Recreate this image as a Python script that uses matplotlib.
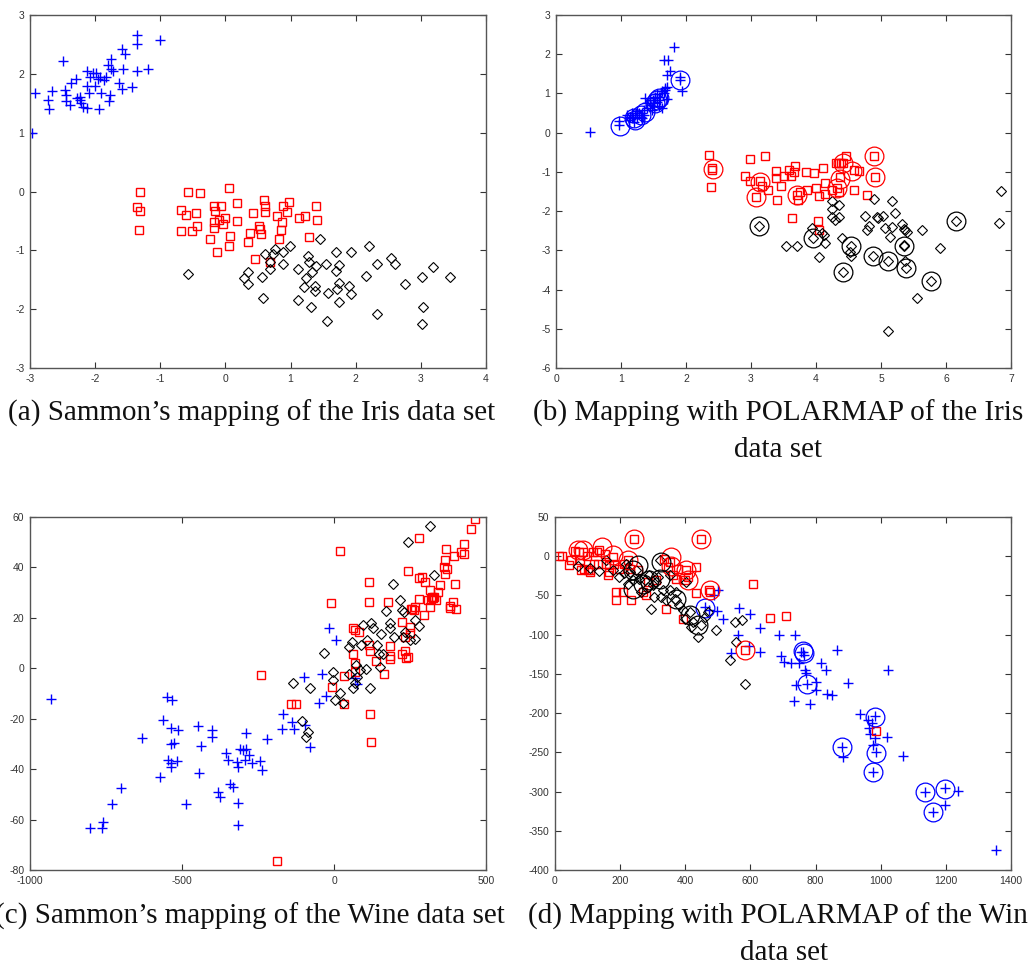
"""Sammon vs POLARMAP projections of Iris and Wine, four scatter panels."""

import numpy as np
import matplotlib
matplotlib.use("Agg")
import matplotlib.pyplot as plt

# === (a) Sammon, Iris ===
a_plus_x = [-2.97, -2.92, -2.66, -2.73, -2.71, -2.50, -2.46, -2.45, -2.44, -2.39, -2.37, -2.29, -2.28,
            -2.23, -2.22, -2.13, -2.12, -2.12, -2.10, -2.03, -2.00, -1.99, -1.96, -1.94, -1.92, -1.91,
            -1.83, -1.79, -1.77, -1.75, -1.75, -1.72, -1.64, -1.59, -1.59, -1.58, -1.54, -1.43, -1.35,
            -1.35, -1.35, -1.19, -1.01, -1.87, -2.23, -1.80, -2.08, -2.18]
a_plus_y = [0.99, 1.68, 1.71, 1.55, 1.40, 2.22, 1.72, 1.64, 1.53, 1.47, 1.85, 1.91, 1.59,
            1.61, 1.50, 2.05, 1.79, 1.42, 1.67, 2.02, 1.79, 2.01, 1.91, 1.40, 1.94, 1.68,
            1.94, 1.53, 1.64, 2.25, 2.09, 2.05, 1.85, 2.42, 1.74, 2.09, 2.34, 1.77, 2.66,
            2.51, 2.05, 2.08, 2.58, 1.90, 1.56, 2.15, 1.95, 1.43]
a_sq_x = [-1.31, -1.35, -1.31, -1.32, -0.68, -0.60, -0.57, -0.39, -0.45, -0.43, -0.68, -0.52, -0.23,
          -0.18, -0.16, -0.18, -0.17, -0.13, -0.10, -0.07, -0.04, -0.01, 0.05, 0.05, 0.07, 0.17, 0.17,
          0.35, 0.37, 0.43, 0.46, 0.52, 0.55, 0.59, 0.60, 0.60, 0.68, 0.79, 0.83, 0.86, 0.87, 0.88,
          0.94, 0.97, 1.13, 1.22, 1.28, 1.39, 1.40, 0.53]
a_sq_y = [0.00, -0.27, -0.33, -0.65, -0.31, -0.40, -0.01, -0.03, -0.36, -0.58, -0.67, -0.67, -0.81,
          -0.25, -0.33, -0.51, -0.62, -1.03, -0.48, -0.24, -0.55, -0.45, 0.06, -0.92, -0.76, -0.19, -0.50,
          -0.85, -0.70, -0.36, -1.15, -0.59, -0.73, -0.14, -0.24, -0.34, -1.20, -0.42, -0.81, -0.65, -0.51, -0.24,
          -0.34, -0.17, -0.45, -0.42, -0.78, -0.24, -0.48, -0.64]
a_dia_x = [-0.57, 0.28, 0.34, 0.35, 0.56, 0.58, 0.60, 0.68, 0.73, 0.76, 0.88, 0.88, 0.99, 1.11, 1.11,
           1.21, 1.24, 1.26, 1.28, 1.32, 1.33, 1.38, 1.39, 1.38, 1.45, 1.55, 1.56, 1.58, 1.69, 1.69,
           1.71, 1.74, 1.75, 1.75, 1.89, 1.92, 1.93, 2.16, 2.20, 2.32, 2.32, 2.54, 2.61, 2.75, 3.02,
           3.04, 3.02, 3.19, 3.44, 0.69]
a_dia_y = [-1.40, -1.47, -1.37, -1.57, -1.45, -1.81, -1.07, -1.32, -1.07, -0.98, -1.02, -1.23, -0.93, -1.32, -1.84,
           -1.62, -1.47, -1.10, -1.19, -1.96, -1.36, -1.61, -1.27, -1.69, -0.80, -1.23, -2.20, -1.73, -1.02, -1.35,
           -1.66, -1.25, -1.55, -1.88, -1.60, -1.03, -1.74, -1.44, -0.93, -1.24, -2.08, -1.13, -1.24, -1.57, -1.45,
           -1.96, -2.25, -1.29, -1.45, -1.19]

# === (b) POLARMAP, Iris ===
b_plus_x = [0.52, 0.97, 0.97, 1.14, 1.17, 1.19, 1.22, 1.25, 1.27, 1.30, 1.32, 1.35, 1.37, 1.40, 1.45,
            1.48, 1.49, 1.50, 1.53, 1.55, 1.58, 1.60, 1.63, 1.66, 1.68, 1.70, 1.71, 1.71, 1.66, 1.73,
            1.76, 1.81, 1.91, 1.91, 1.94, 1.12, 1.20, 1.50, 1.55, 1.63, 1.32, 1.40, 1.09, 1.59, 1.67,
            1.25, 1.45, 1.35, 1.53, 1.17]
b_plus_y = [0.01, 0.31, 0.20, 0.41, 0.50, 0.37, 0.45, 0.39, 0.50, 0.41, 0.51, 0.45, 0.88, 0.62, 0.71,
            0.58, 0.84, 0.75, 0.88, 0.79, 0.92, 0.84, 0.62, 1.01, 1.09, 0.85, 1.17, 1.47, 1.85, 1.85,
            1.56, 2.18, 1.41, 1.34, 1.05, 0.33, 0.28, 0.67, 0.98, 1.05, 0.37, 0.75, 0.45, 0.69, 1.13,
            0.54, 0.84, 0.58, 0.92, 0.37]
b_sq_x = [2.36, 2.40, 2.40, 2.38, 2.91, 2.99, 2.99, 3.07, 3.14, 3.17, 3.22, 3.26, 3.38, 3.38, 3.40,
          3.46, 3.50, 3.58, 3.61, 3.63, 3.66, 3.68, 3.71, 3.73, 3.75, 3.85, 3.86, 3.97, 4.00, 4.03,
          4.04, 4.04, 4.11, 4.14, 4.14, 4.31, 4.35, 4.39, 4.42, 4.46, 4.37, 4.32, 4.36, 4.58, 4.66,
          4.58, 4.78, 4.89, 4.90, 4.25]
b_sq_y = [-0.57, -0.90, -0.96, -1.39, -1.10, -0.68, -1.22, -1.63, -1.24, -1.37, -0.59, -1.46, -0.97, -1.16, -1.71,
          -1.37, -1.10, -0.95, -1.10, -2.18, -1.00, -0.85, -1.58, -1.71, -1.52, -1.00, -1.46, -1.02, -1.41, -2.26,
          -2.47, -1.61, -0.90, -1.29, -1.57, -0.78, -0.78, -0.78, -0.78, -0.59, -1.13, -1.41, -1.52, -0.96, -0.99,
          -1.46, -1.58, -0.59, -1.13, -1.47]
b_dia_x = [3.13, 3.54, 3.70, 3.94, 3.95, 4.05, 4.12, 4.14, 4.24, 4.24, 4.24, 4.29, 4.35, 4.35, 4.40,
           4.41, 4.54, 4.54, 4.76, 4.78, 4.82, 4.87, 4.89, 4.94, 4.96, 5.03, 5.06, 5.10, 5.11, 5.14,
           5.17, 5.17, 5.22, 5.32, 5.35, 5.35, 5.37, 5.37, 5.39, 5.40, 5.55, 5.63, 5.77, 5.91, 6.16,
           6.82, 6.84, 4.53, 5.35, 4.09]
b_dia_y = [-2.39, -2.90, -2.90, -2.43, -2.69, -3.18, -2.60, -2.81, -1.75, -1.95, -2.14, -2.22, -1.84, -2.15, -2.69,
           -3.56, -2.88, -3.15, -2.12, -2.48, -2.39, -3.14, -1.69, -2.15, -2.18, -2.12, -2.43, -3.28, -5.06, -2.66,
           -2.41, -1.74, -2.05, -2.32, -2.90, -2.86, -2.48, -3.28, -3.45, -2.52, -4.22, -2.49, -3.77, -2.94, -2.26,
           -2.31, -1.50, -3.03, -2.46, -2.56]
# highlighted (ringed) points
b_ring_blue_x = [0.99, 1.20, 1.22, 1.30, 1.37, 1.55, 1.58, 1.53, 1.91]
b_ring_blue_y = [0.18, 0.37, 0.33, 0.45, 0.53, 0.84, 0.88, 0.75, 1.34]
b_ring_red_x = [2.42, 3.07, 3.14, 3.71, 4.42, 4.37, 4.32, 4.55, 4.89, 4.90]
b_ring_red_y = [-0.93, -1.63, -1.27, -1.58, -0.78, -1.17, -1.41, -0.98, -0.59, -1.13]
b_ring_blk_x = [3.13, 3.95, 4.41, 4.54, 4.87, 5.10, 5.35, 5.39, 5.77, 6.16]
b_ring_blk_y = [-2.39, -2.69, -3.56, -2.88, -3.14, -3.28, -2.90, -3.45, -3.77, -2.26]

# === (c) Sammon, Wine ===
c_plus_x = [-932, -802, -764, -761, -731, -702, -630, -572, -564, -550, -534, -536, -512, -536, -526,
            -547, -537, -536, -517, -486, -446, -443, -437, -402, -402, -380, -375, -355, -348, -342,
            -331, -320, -315, -315, -315, -309, -300, -289, -289, -294, -281, -270, -243, -237, -221,
            -172, -168, -139, -133, -100, -95, -80, -49, -38, -26, -16, 6, 68, 75]
c_plus_y = [-12.0, -63.5, -63.5, -60.9, -53.9, -47.6, -27.6, -43.3, -20.6, -11.3, -12.4, -23.6, -24.3, -30.2, -29.6,
            -36.4, -37.7, -39.1, -36.8, -53.9, -22.9, -41.7, -30.9, -24.5, -27.2, -49.2, -51.0, -33.5, -36.2, -45.7,
            -47.0, -37.1, -39.1, -53.6, -62.2, -32.2, -32.5, -32.2, -25.6, -36.4, -34.4, -37.7, -36.8, -40.4, -28.1,
            -23.9, -18.2, -21.2, -24.1, -3.4, -22.6, -31.4, -13.6, -2.1, -11.1, 16.0, 11.1, -3.8, -6.3]
c_sq_x = [-240, -188, -141, -125, -9, -5, 21, 34, 34, 64, 68, 64, 69, 69, 83, 114, 114, 114, 117, 119,
          121, 138, 165, 177, 183, 183, 183, 223, 223, 232, 234, 237, 242, 245, 249, 251, 256, 262, 267,
          278, 278, 278, 289, 295, 300, 309, 317, 317, 322, 326, 330, 337, 341, 350, 361, 364, 366, 369,
          372, 380, 391, 396, 399, 401, 418, 426, 429, 452, 465, 383, 253, 320]
c_sq_y = [-2.7, -76.4, -14.2, -14.0, 25.7, -7.4, 46.4, -3.1, -14.2, 16.0, 15.1, 5.8, 1.9, -1.4, 14.4, 34.2, 26.3,
          9.4, -18.2, 6.8, -29.2, 3.0, -2.1, 26.3, 8.8, 4.8, 3.5, 18.4, 5.8, 12.5, 6.9, 3.9, 38.5, 4.5, 16.4,
          13.8, 23.7, 23.0, 24.3, 51.7, 35.8, 27.6, 36.2, 21.0, 34.2, 27.2, 24.3, 30.9, 28.3, 27.9, 28.3, 27.0,
          30.3, 32.9, 40.2, 37.5, 42.8, 47.5, 39.5, 24.6, 26.3, 44.4, 33.6, 23.7, 46.1, 49.2, 45.2, 55.4, 59.3,
          24.1, 23.7, 27.6]
c_dia_x = [-135, -106, -91, -87, -80, -34, -4, -4, 4, 21, 31, 48, 48, 59, 64, 69, 73, 86, 90, 95, 106,
           117, 122, 127, 141, 149, 156, 161, 172, 183, 185, 194, 198, 216, 223, 229, 234, 242, 265, 267,
           278, 317, 330, 251, 152, 226, 75, 108]
c_dia_y = [-5.8, -20.8, -27.4, -25.2, -8.0, 6.2, -1.4, -4.7, -12.6, -10.0, -13.7, 8.5, -2.1, 10.5, -8.0, -6.0,
           1.5, -0.8, 9.1, 17.1, -0.1, -8.0, 18.0, 15.8, 9.1, 5.5, 13.4, 5.8, 22.6, 18.0, 15.8, 33.6, 12.5,
           27.0, 23.3, 22.4, 14.4, 50.1, 11.8, 19.1, 16.7, 56.4, 36.9, 11.1, 0.6, 12.5, -3.4, 11.1]

# === (d) POLARMAP, Wine ===
d_plus_x = [472, 459, 487, 500, 497, 516, 565, 562, 541, 598, 630, 630, 595, 688, 695, 702, 726, 736,
            734, 741, 749, 756, 762, 764, 767, 772, 775, 782, 800, 800, 818, 833, 836, 851, 866, 900,
            936, 961, 964, 977, 977, 982, 982, 987, 1018, 1021, 1069, 880, 883, 1136, 1159, 1197, 1197,
            1238, 1354, 972, 966]
d_plus_y = [-68.0, -64.6, -49.8, -42.5, -69.7, -79.5, -65.9, -99.9, -123.2, -73.1, -91.4, -121.9, -114.7,
            -99.9, -127.4, -134.7, -135.9, -99.9, -184.8, -164.4, -135.9, -121.9, -121.9, -125.3, -145.3,
            -148.7, -162.3, -189.0, -160.1, -170.7, -135.9, -145.3, -175.0, -177.1, -119.0, -161.4, -201.3,
            -209.0, -218.7, -240.8, -274.8, -203.9, -232.3, -250.1, -230.2, -145.3, -254.4, -242.9, -255.7,
            -300.2, -325.7, -296.0, -317.2, -299.0, -374.5, -213.2, -226.0]
d_sq_x = [13, 22, 42, 50, 62, 75, 85, 77, 90, 100, 106, 116, 128, 136, 152, 131, 157, 162, 167, 177, 182,
          188, 188, 198, 208, 213, 223, 229, 234, 242, 254, 270, 280, 285, 310, 336, 341, 346, 352, 362,
          372, 377, 393, 398, 403, 408, 434, 434, 447, 472, 475, 583, 608, 659, 708, 984, 80, 97, 106,
          167, 121]
d_sq_y = [0.0, 0.0, -11.5, -4.2, 6.8, 5.5, 5.5, -5.1, -15.8, -17.9, -20.1, 5.5, 5.5, 7.6, 3.4, -9.4, -9.4,
          -24.2, -20.1, -0.9, -9.4, -45.5, -56.1, -15.8, -45.5, -9.4, -5.1, -15.8, -55.3, 22.3, -17.1, -45.5,
          -49.8, -32.8, -30.7, -3.3, -66.9, -13.7, -7.2, -24.2, -28.5, -15.8, -79.5, -30.7, -17.9, -26.4, -13.7,
          -46.8, 22.3, -42.5, -45.5, -119.8, -34.9, -78.2, -76.5, -222.5, -17.9, 0.0, -17.9, -11.5, -9.4]
d_dia_x = [70, 136, 157, 177, 198, 218, 229, 239, 249, 259, 275, 285, 295, 300, 310, 321, 326, 331, 341,
           352, 367, 372, 382, 393, 398, 403, 418, 423, 439, 449, 459, 469, 495, 536, 554, 557, 574, 582,
           413, 315, 372, 223, 264, 290, 352, 106, 213, 305]
d_dia_y = [-12.8, -18.8, -4.2, -17.9, -26.4, -9.4, -20.1, -30.7, -17.9, -28.5, -30.7, -39.1, -66.9, -37.0,
           -32.8, -5.1, -51.9, -43.4, -56.1, -24.2, -54.0, -56.1, -62.5, -68.9, -79.5, -32.8, -90.1, -83.7,
           -102.8, -87.9, -77.4, -70.9, -93.5, -132.5, -83.7, -109.2, -80.8, -163.5, -70.9, -26.4, -45.5,
           -34.9, -45.5, -24.2, -43.4, -14.7, -22.0, -51.9]
d_ring_blue_x = [459, 762, 764, 775, 880, 982, 987, 977, 1136, 1159, 1197]
d_ring_blue_y = [-66.0, -121.0, -124.0, -162.3, -242.9, -205.0, -251.0, -274.8, -301.0, -325.7, -297.0]
d_ring_red_x = [70, 87, 145, 177, 223, 242, 357, 357, 403, 408, 447, 475, 583]
d_ring_red_y = [7.5, 7.5, 11.5, 1.0, -5.1, 22.3, -0.5, -13.0, -17.9, -30.7, 22.3, -42.5, -119.8]
d_ring_blk_x = [239, 254, 290, 321, 326, 372, 413, 439, 239, 270]
d_ring_blk_y = [-17.9, -11.5, -30.7, -28.5, -7.2, -54.0, -75.0, -88.0, -41.5, -35.0]

captions = [
    ["(a) Sammon\u2019s mapping of the Iris data set"],
    ["(b) Mapping with POLARMAP of the Iris", "data set"],
    ["(c) Sammon\u2019s mapping of the Wine data set"],
    ["(d) Mapping with POLARMAP of the Wine", "data set"],
]

W, H = 1028, 965
plt.rcParams['font.family'] = ['Liberation Sans', 'DejaVu Sans']
plt.rcParams['axes.unicode_minus'] = False
fig = plt.figure(figsize=(W / 100, H / 100), dpi=100)


def add_axes(l, t, r, b):
    return fig.add_axes([l / W, 1 - b / H, (r - l) / W, (b - t) / H])


def style(ax, xlim, ylim, xticks, yticks):
    ax.set_xlim(*xlim)
    ax.set_ylim(*ylim)
    ax.set_xticks(xticks)
    ax.set_yticks(yticks)
    ax.tick_params(direction='in', top=True, right=True, length=4, width=0.8,
                   labelsize=7.5, labelcolor='#333333', color='#333333', pad=4)
    for s in ax.spines.values():
        s.set_color('#555555')
        s.set_linewidth(1.0)


def scatter_sets(ax, plus, sq, dia):
    ax.plot(plus[0], plus[1], '+', color='#0000ff', ms=7, mew=1.0, ls='none')
    ax.plot(sq[0], sq[1], 's', mfc='none', mec='#ff0000', ms=6, mew=1.0, ls='none')
    ax.plot(dia[0], dia[1], 'D', mfc='none', mec='black', ms=5.2, mew=0.8, ls='none')


def rings(ax, pts, color):
    ax.plot(pts[0], pts[1], 'o', mfc='none', mec=color, ms=13.5, mew=0.9, ls='none')


ax_a = add_axes(30, 15, 486, 368)
scatter_sets(ax_a, (a_plus_x, a_plus_y), (a_sq_x, a_sq_y), (a_dia_x, a_dia_y))
style(ax_a, (-3, 4), (-3, 3), np.arange(-3, 5), np.arange(-3, 4))

ax_b = add_axes(556, 15, 1011, 368)
scatter_sets(ax_b, (b_plus_x, b_plus_y), (b_sq_x, b_sq_y), (b_dia_x, b_dia_y))
rings(ax_b, (b_ring_blue_x, b_ring_blue_y), '#0000ff')
rings(ax_b, (b_ring_red_x, b_ring_red_y), '#ff0000')
rings(ax_b, (b_ring_blk_x, b_ring_blk_y), 'black')
style(ax_b, (0, 7), (-6, 3), np.arange(0, 8), np.arange(-6, 4))

ax_c = add_axes(30, 517, 486, 870)
scatter_sets(ax_c, (c_plus_x, c_plus_y), (c_sq_x, c_sq_y), (c_dia_x, c_dia_y))
style(ax_c, (-1000, 500), (-80, 60), [-1000, -500, 0, 500], np.arange(-80, 61, 20))

ax_d = add_axes(555, 517, 1011, 870)
scatter_sets(ax_d, (d_plus_x, d_plus_y), (d_sq_x, d_sq_y), (d_dia_x, d_dia_y))
rings(ax_d, (d_ring_blue_x, d_ring_blue_y), '#0000ff')
rings(ax_d, (d_ring_red_x, d_ring_red_y), '#ff0000')
rings(ax_d, (d_ring_blk_x, d_ring_blk_y), 'black')
style(ax_d, (0, 1400), (-400, 50), np.arange(0, 1401, 200), np.arange(-400, 51, 50))

# captions (serif, below each panel)
cap_pos = [(252, 413), (778, 413), (250, 916), (784, 916)]
for (cx, cy), lines in zip(cap_pos, captions):
    for i, line in enumerate(lines):
        fig.text(cx / W, 1 - (cy + i * 37) / H, line, ha='center', va='center',
                 fontsize=21, family=['Liberation Serif', 'DejaVu Serif'], color='#111111')

fig.savefig('out.png', dpi=100)
